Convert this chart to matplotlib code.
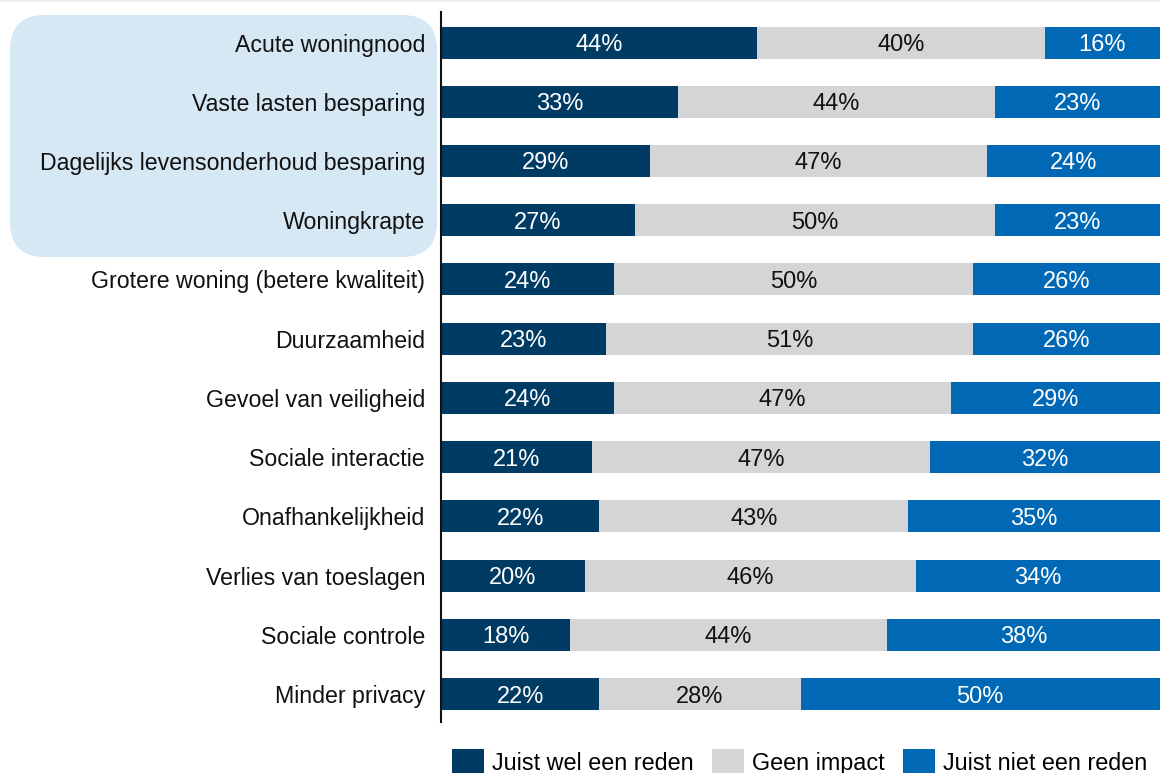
import matplotlib.pyplot as plt
import numpy as np
from matplotlib.patches import FancyBboxPatch, Patch
from matplotlib.lines import Line2D

plt.rcParams["font.family"] = ["Liberation Sans", "DejaVu Sans"]

categories = [
    "Acute woningnood",
    "Vaste lasten besparing",
    "Dagelijks levensonderhoud besparing",
    "Woningkrapte",
    "Grotere woning (betere kwaliteit)",
    "Duurzaamheid",
    "Gevoel van veiligheid",
    "Sociale interactie",
    "Onafhankelijkheid",
    "Verlies van toeslagen",
    "Sociale controle",
    "Minder privacy",
]
wel_reden = [44, 33, 29, 27, 24, 23, 24, 21, 22, 20, 18, 22]
geen_impact = [40, 44, 47, 50, 50, 51, 47, 47, 43, 46, 44, 28]
niet_reden = [16, 23, 24, 23, 26, 26, 29, 32, 35, 34, 38, 50]
series_names = ["Juist wel een reden", "Geen impact", "Juist niet een reden"]

colors = ["#003B64", "#D4D5D7", "#0068B4"]
text_colors = ["white", "#111111", "white"]

W, H = 1160, 773
fig = plt.figure(figsize=(W / 100, H / 100), dpi=100)
ax = fig.add_axes([441 / W, 1 - 722 / H, 1 - 441 / W, (722 - 12) / H])
ax.patch.set_alpha(0)

y = np.arange(len(categories))
left = np.zeros(len(categories))
for vals, col, tcol in zip([wel_reden, geen_impact, niet_reden], colors, text_colors):
    vals = np.array(vals, dtype=float)
    ax.barh(y, vals, left=left, height=0.54, color=col, edgecolor="none")
    for yi, l, v in zip(y, left, vals):
        ax.text(l + v / 2, yi, f"{int(v)}%", ha="center", va="center_baseline",
                color=tcol, fontsize=17)
    left += vals

ax.set_xlim(0, 100)
ax.set_ylim(11.47, -0.515)
ax.set_yticks(y)
ax.set_yticklabels(categories, fontsize=16.7, color="#111111")
ax.tick_params(axis="y", length=0, pad=11.5)
ax.set_xticks([])
for s in ["top", "right", "bottom"]:
    ax.spines[s].set_visible(False)
ax.spines["left"].set_linewidth(1.5)
ax.spines["left"].set_color("#111111")

# highlighted box behind first four labels
box = FancyBboxPatch((10 / W, 1 - 257 / H), 427 / W, 242 / H,
                     boxstyle="round,pad=0,rounding_size=0.03",
                     transform=fig.transFigure, facecolor="#D5E8F4",
                     edgecolor="none", zorder=-1, mutation_aspect=W / H)
fig.patches.append(box)

# thin line at top
fig.lines.append(Line2D([0, 1], [1 - 0.5 / H, 1 - 0.5 / H], transform=fig.transFigure,
                        color="#EEEEEE", linewidth=1.5))

handles = [Patch(facecolor=c, edgecolor="none") for c in colors]
fig.legend(handles, series_names, ncol=3, frameon=False, loc="upper left",
           bbox_to_anchor=(452 / W, 1 - 749 / H), borderpad=0, borderaxespad=0,
           fontsize=16.8, handlelength=1.37, handleheight=1.37,
           handletextpad=0.34, columnspacing=0.8)

fig.savefig("out.png", dpi=100)
